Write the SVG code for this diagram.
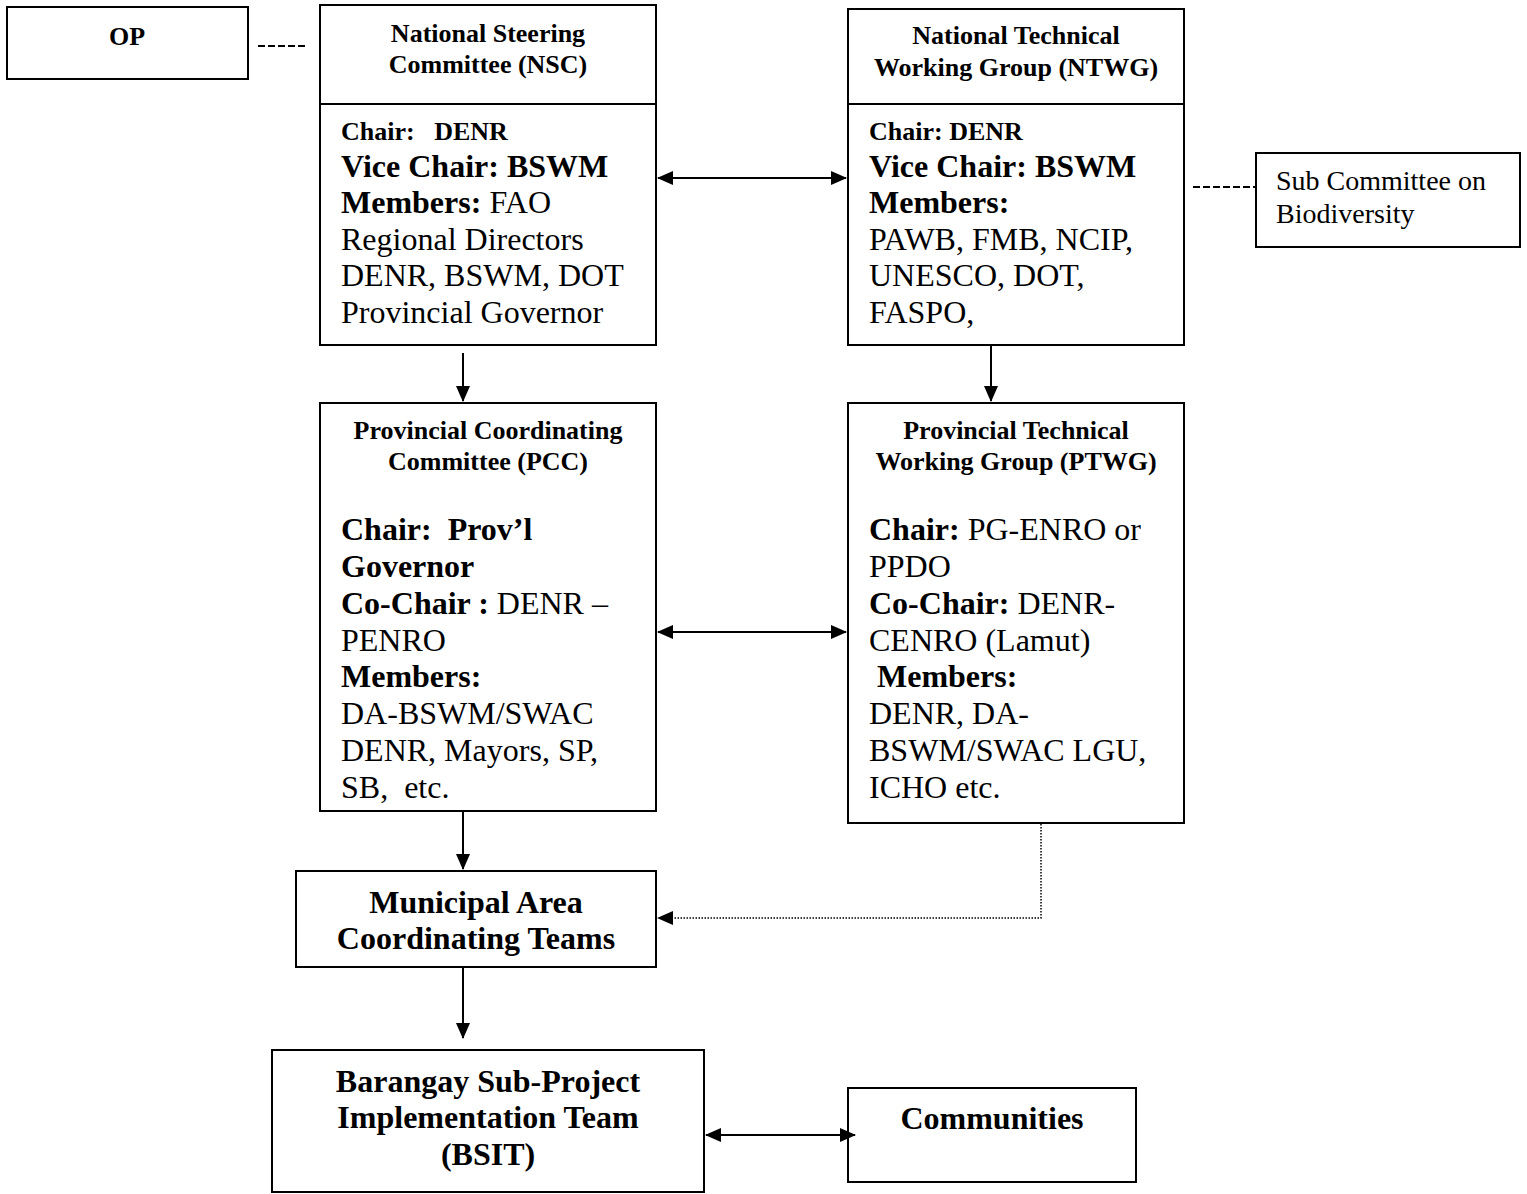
<svg xmlns="http://www.w3.org/2000/svg" width="1527" height="1194" viewBox="0 0 1527 1194">
<style>
.box{fill:#fff;stroke:#000;stroke-width:2}
text{font-family:"Liberation Serif","Times New Roman",serif;fill:#000}
.t{font-size:26px;font-weight:bold;text-anchor:middle}
.c{font-size:26px;font-weight:bold}
.b{font-size:32px}
.bb{font-size:32px;font-weight:bold}
.bc{font-size:32px;font-weight:bold;text-anchor:middle}
.s{font-size:28px}
.ln{stroke:#000;stroke-width:2;fill:none}
.dash{stroke:#000;stroke-width:2;stroke-dasharray:7,3;fill:none}
.dot{stroke:#000;stroke-width:1.5;stroke-dasharray:1.5,1.5;fill:none}
</style>
<defs>
<marker id="ah" markerWidth="16" markerHeight="14" refX="15" refY="7" orient="auto-start-reverse" markerUnits="userSpaceOnUse">
<path d="M0,0 L16,7 L0,14 Z" fill="#000"/>
</marker>
</defs>
<g id="op"><rect class="box" x="7" y="7" width="241" height="72"/><text class="t" x="127" y="45">OP</text></g>
<g id="nsc"><rect class="box" x="320" y="5" width="336" height="340"/><line class="ln" x1="320" y1="104" x2="656" y2="104"/>
<text class="t" x="488" y="42">National Steering</text><text class="t" x="488" y="73">Committee (NSC)</text>
<text class="c" x="341" y="140" xml:space="preserve">Chair:   DENR</text>
<text class="bb" x="341" y="177">Vice Chair: BSWM</text>
<text class="b" x="341" y="213"><tspan font-weight="bold">Members:</tspan> FAO</text>
<text class="b" x="341" y="250">Regional Directors</text>
<text class="b" x="341" y="286">DENR, BSWM, DOT</text>
<text class="b" x="341" y="323">Provincial Governor</text></g>
<g id="ntwg"><rect class="box" x="848" y="9" width="336" height="336"/><line class="ln" x1="848" y1="104" x2="1184" y2="104"/>
<text class="t" x="1016" y="44">National Technical</text><text class="t" x="1016" y="76">Working Group (NTWG)</text>
<text class="c" x="869" y="140">Chair: DENR</text>
<text class="bb" x="869" y="177">Vice Chair: BSWM</text>
<text class="bb" x="869" y="213">Members:</text>
<text class="b" x="869" y="250">PAWB, FMB, NCIP,</text>
<text class="b" x="869" y="286">UNESCO, DOT,</text>
<text class="b" x="869" y="323">FASPO,</text></g>
<g id="sub"><rect class="box" x="1256" y="153" width="264" height="94"/>
<text class="s" x="1276" y="190">Sub Committee on</text><text class="s" x="1276" y="223">Biodiversity</text></g>
<g id="pcc"><rect class="box" x="320" y="403" width="336" height="408"/>
<text class="t" x="488" y="439">Provincial Coordinating</text><text class="t" x="488" y="470">Committee (PCC)</text>
<text class="bb" x="341" y="540" xml:space="preserve">Chair:  Prov’l</text>
<text class="bb" x="341" y="577">Governor</text>
<text class="b" x="341" y="614"><tspan font-weight="bold">Co-Chair :</tspan> DENR –</text>
<text class="b" x="341" y="651">PENRO</text>
<text class="bb" x="341" y="687">Members:</text>
<text class="b" x="341" y="724">DA-BSWM/SWAC</text>
<text class="b" x="341" y="761">DENR, Mayors, SP,</text>
<text class="b" x="341" y="798" xml:space="preserve">SB,  etc.</text></g>
<g id="ptwg"><rect class="box" x="848" y="403" width="336" height="420"/>
<text class="t" x="1016" y="439">Provincial Technical</text><text class="t" x="1016" y="470">Working Group (PTWG)</text>
<text class="b" x="869" y="540"><tspan font-weight="bold">Chair:</tspan> PG-ENRO or</text>
<text class="b" x="869" y="577">PPDO</text>
<text class="b" x="869" y="614"><tspan font-weight="bold">Co-Chair:</tspan> DENR-</text>
<text class="b" x="869" y="651">CENRO (Lamut)</text>
<text class="bb" x="877" y="687">Members:</text>
<text class="b" x="869" y="724">DENR, DA-</text>
<text class="b" x="869" y="761">BSWM/SWAC LGU,</text>
<text class="b" x="869" y="798">ICHO etc.</text></g>
<g id="mact"><rect class="box" x="296" y="871" width="360" height="96"/>
<text class="bc" x="476" y="913">Municipal Area</text><text class="bc" x="476" y="949">Coordinating Teams</text></g>
<g id="bsit"><rect class="box" x="272" y="1050" width="432" height="142"/>
<text class="bc" x="488" y="1092">Barangay Sub-Project</text><text class="bc" x="488" y="1128">Implementation Team</text><text class="bc" x="488" y="1165">(BSIT)</text></g>
<g id="comm"><rect class="box" x="848" y="1088" width="288" height="94"/>
<text class="bc" x="992" y="1129">Communities</text></g>
<g id="connectors">
<line class="dash" x1="258" y1="46" x2="308" y2="46"/>
<line class="dash" x1="1193" y1="187" x2="1255" y2="187"/>
<line class="ln" x1="658" y1="178" x2="846" y2="178" marker-start="url(#ah)" marker-end="url(#ah)"/>
<line class="ln" x1="463" y1="353" x2="463" y2="401" marker-end="url(#ah)"/>
<line class="ln" x1="991" y1="345" x2="991" y2="401" marker-end="url(#ah)"/>
<line class="ln" x1="658" y1="632" x2="846" y2="632" marker-start="url(#ah)" marker-end="url(#ah)"/>
<line class="ln" x1="463" y1="811" x2="463" y2="869" marker-end="url(#ah)"/>
<path class="dot" d="M1041,824 V918 H670"/>
<path d="M657,918 L673,911 L673,925 Z" fill="#000"/>
<line class="ln" x1="463" y1="967" x2="463" y2="1038" marker-end="url(#ah)"/>
<line class="ln" x1="706" y1="1135" x2="855" y2="1135" marker-start="url(#ah)" marker-end="url(#ah)"/>
</g>
</svg>
